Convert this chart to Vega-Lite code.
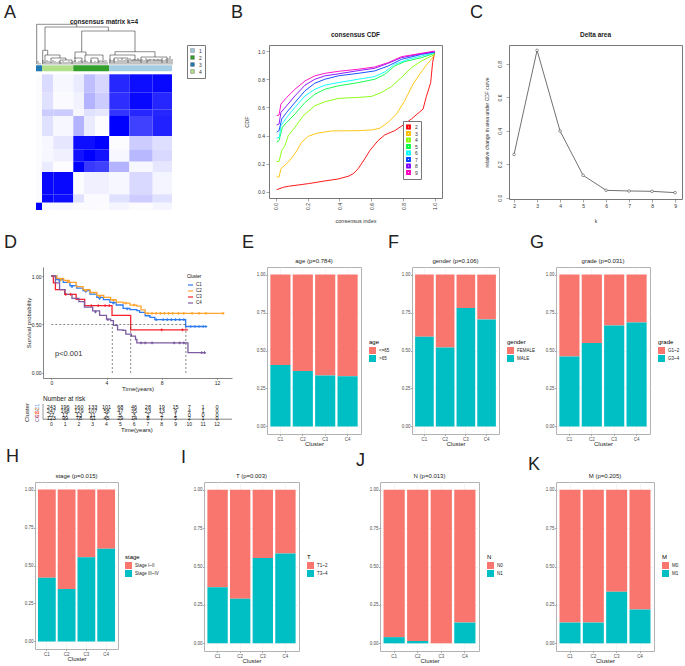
{
"$schema":"https://vega.github.io/schema/vega-lite/v6.json",
"padding":{"left":0,"top":4,"right":0,"bottom":0},
"background":"white",
"spacing":0,
"resolve":{"scale":{"color":"independent","fill":"independent"},"legend":{"color":"independent","fill":"independent"}},
"config":{"font":"Liberation Sans","view":{"stroke":null},"title":{"fontWeight":"normal","color":"#222"},
"axis":{"labelFontSize":4.5,"labelColor":"#4d4d4d","labelFontWeight":"normal","titleFontSize":6,"titleFontWeight":"normal","titleColor":"#222","tickSize":1.5,"tickColor":"#555","tickWidth":0.5,"domain":false,"grid":false,"labelPadding":0.5,"titlePadding":0},
"legend":{"titleFontWeight":"normal"}},
"vconcat":[
{"resolve":{"scale":{"color":"independent","fill":"independent"},"legend":{"color":"independent","fill":"independent"}},"hconcat":[
{"width":36,"height":189,"title":{"text":"A","anchor":"start","dx":4,"offset":9,"fontSize":18,"baseline":"alphabetic"},"data":{"values":[{"z":0.5}]},"mark":{"type":"rect","opacity":0},"encoding":{"x":{"field":"z","type":"quantitative","axis":null,"scale":{"domain":[0,1]}},"y":{"field":"z","type":"quantitative","axis":null,"scale":{"domain":[0,1]}}}},
{"width":136,"height":165,"title":{"text":"consensus matrix k=4","fontSize":6.5,"fontWeight":"bold","offset":-6.5,"baseline":"alphabetic"},
"layer":[
{"data":{"values":[
{"a":0,"b":6,"lo":117.3,"hi":135.7,"v":0.01},{"a":6,"b":17.3,"lo":117.3,"hi":135.7,"v":0.14},{"a":17.3,"b":37.3,"lo":117.3,"hi":135.7,"v":0.03},{"a":37.3,"b":48,"lo":117.3,"hi":135.7,"v":0.08},{"a":48,"b":59,"lo":117.3,"hi":135.7,"v":0.25},{"a":59,"b":73.3,"lo":117.3,"hi":135.7,"v":0.16},{"a":73.3,"b":93.3,"lo":117.3,"hi":135.7,"v":0.85},{"a":93.3,"b":116.7,"lo":117.3,"hi":135.7,"v":0.95},{"a":116.7,"b":136,"lo":117.3,"hi":135.7,"v":0.97},
{"a":0,"b":6,"lo":100.7,"hi":117.3,"v":0.01},{"a":6,"b":17.3,"lo":100.7,"hi":117.3,"v":0.12},{"a":17.3,"b":37.3,"lo":100.7,"hi":117.3,"v":0.02},{"a":37.3,"b":48,"lo":100.7,"hi":117.3,"v":0.05},{"a":48,"b":59,"lo":100.7,"hi":117.3,"v":0.3},{"a":59,"b":73.3,"lo":100.7,"hi":117.3,"v":0.2},{"a":73.3,"b":93.3,"lo":100.7,"hi":117.3,"v":0.82},{"a":93.3,"b":116.7,"lo":100.7,"hi":117.3,"v":0.97},{"a":116.7,"b":136,"lo":100.7,"hi":117.3,"v":0.85},
{"a":0,"b":6,"lo":94,"hi":100.7,"v":0.01},{"a":6,"b":17.3,"lo":94,"hi":100.7,"v":0.2},{"a":17.3,"b":37.3,"lo":94,"hi":100.7,"v":0.2},{"a":37.3,"b":48,"lo":94,"hi":100.7,"v":0.03},{"a":48,"b":59,"lo":94,"hi":100.7,"v":0.12},{"a":59,"b":73.3,"lo":94,"hi":100.7,"v":0.1},{"a":73.3,"b":93.3,"lo":94,"hi":100.7,"v":0.8},{"a":93.3,"b":116.7,"lo":94,"hi":100.7,"v":0.85},{"a":116.7,"b":136,"lo":94,"hi":100.7,"v":0.85},
{"a":0,"b":6,"lo":74,"hi":94,"v":0.01},{"a":6,"b":17.3,"lo":74,"hi":94,"v":0.12},{"a":17.3,"b":37.3,"lo":74,"hi":94,"v":0.03},{"a":37.3,"b":48,"lo":74,"hi":94,"v":0.3},{"a":48,"b":59,"lo":74,"hi":94,"v":0.08},{"a":59,"b":73.3,"lo":74,"hi":94,"v":0.01},{"a":73.3,"b":93.3,"lo":74,"hi":94,"v":1},{"a":93.3,"b":116.7,"lo":74,"hi":94,"v":0.75},{"a":116.7,"b":136,"lo":74,"hi":94,"v":0.87},
{"a":0,"b":6,"lo":60.7,"hi":74,"v":0.01},{"a":6,"b":17.3,"lo":60.7,"hi":74,"v":0.03},{"a":17.3,"b":37.3,"lo":60.7,"hi":74,"v":0.1},{"a":37.3,"b":48,"lo":60.7,"hi":74,"v":0.95},{"a":48,"b":59,"lo":60.7,"hi":74,"v":0.95},{"a":59,"b":73.3,"lo":60.7,"hi":74,"v":1},{"a":73.3,"b":93.3,"lo":60.7,"hi":74,"v":0.01},{"a":93.3,"b":116.7,"lo":60.7,"hi":74,"v":0.2},{"a":116.7,"b":136,"lo":60.7,"hi":74,"v":0.13},
{"a":0,"b":6,"lo":48.3,"hi":60.7,"v":0.01},{"a":6,"b":17.3,"lo":48.3,"hi":60.7,"v":0.03},{"a":17.3,"b":37.3,"lo":48.3,"hi":60.7,"v":0.06},{"a":37.3,"b":48,"lo":48.3,"hi":60.7,"v":0.93},{"a":48,"b":59,"lo":48.3,"hi":60.7,"v":1},{"a":59,"b":73.3,"lo":48.3,"hi":60.7,"v":0.93},{"a":73.3,"b":93.3,"lo":48.3,"hi":60.7,"v":0.03},{"a":93.3,"b":116.7,"lo":48.3,"hi":60.7,"v":0.28},{"a":116.7,"b":136,"lo":48.3,"hi":60.7,"v":0.15},
{"a":0,"b":6,"lo":38,"hi":48.3,"v":0.01},{"a":6,"b":17.3,"lo":38,"hi":48.3,"v":0.08},{"a":17.3,"b":37.3,"lo":38,"hi":48.3,"v":0.01},{"a":37.3,"b":48,"lo":38,"hi":48.3,"v":1},{"a":48,"b":59,"lo":38,"hi":48.3,"v":0.78},{"a":59,"b":73.3,"lo":38,"hi":48.3,"v":0.75},{"a":73.3,"b":93.3,"lo":38,"hi":48.3,"v":0.3},{"a":93.3,"b":116.7,"lo":38,"hi":48.3,"v":0.03},{"a":116.7,"b":136,"lo":38,"hi":48.3,"v":0.1},
{"a":0,"b":6,"lo":15.7,"hi":38,"v":0.01},{"a":6,"b":17.3,"lo":15.7,"hi":38,"v":0.97},{"a":17.3,"b":37.3,"lo":15.7,"hi":38,"v":0.97},{"a":37.3,"b":48,"lo":15.7,"hi":38,"v":0.01},{"a":48,"b":59,"lo":15.7,"hi":38,"v":0.06},{"a":59,"b":73.3,"lo":15.7,"hi":38,"v":0.06},{"a":73.3,"b":93.3,"lo":15.7,"hi":38,"v":0.03},{"a":93.3,"b":116.7,"lo":15.7,"hi":38,"v":0.15},{"a":116.7,"b":136,"lo":15.7,"hi":38,"v":0.04},
{"a":0,"b":6,"lo":7.3,"hi":15.7,"v":0.01},{"a":6,"b":17.3,"lo":7.3,"hi":15.7,"v":0.97},{"a":17.3,"b":37.3,"lo":7.3,"hi":15.7,"v":0.95},{"a":37.3,"b":48,"lo":7.3,"hi":15.7,"v":0.12},{"a":48,"b":59,"lo":7.3,"hi":15.7,"v":0.02},{"a":59,"b":73.3,"lo":7.3,"hi":15.7,"v":0.02},{"a":73.3,"b":93.3,"lo":7.3,"hi":15.7,"v":0.12},{"a":93.3,"b":116.7,"lo":7.3,"hi":15.7,"v":0.2},{"a":116.7,"b":136,"lo":7.3,"hi":15.7,"v":0.12},
{"a":0,"b":6,"lo":0,"hi":7.3,"v":1},{"a":6,"b":17.3,"lo":0,"hi":7.3,"v":0.03},{"a":17.3,"b":37.3,"lo":0,"hi":7.3,"v":0.03},{"a":37.3,"b":48,"lo":0,"hi":7.3,"v":0.01},{"a":48,"b":59,"lo":0,"hi":7.3,"v":0.02},{"a":59,"b":73.3,"lo":0,"hi":7.3,"v":0.01},{"a":73.3,"b":93.3,"lo":0,"hi":7.3,"v":0.04},{"a":93.3,"b":116.7,"lo":0,"hi":7.3,"v":0.01},{"a":116.7,"b":136,"lo":0,"hi":7.3,"v":0.04}
]},"mark":{"type":"rect"},
"encoding":{"x":{"field":"a","type":"quantitative","scale":{"domain":[0,136],"nice":false},"axis":null},"x2":{"field":"b"},
"y":{"field":"lo","type":"quantitative","scale":{"domain":[0,165],"nice":false},"axis":null},"y2":{"field":"hi"},
"color":{"field":"v","type":"quantitative","legend":null,"scale":{"domain":[0,1],"range":["#ffffff","#0000ff"],"interpolate":"rgb"}}}},
{"data":{"values":[{"group":"3","a":0,"b":6,"lo":138.7,"hi":144.7},{"group":"4","a":6,"b":37.3,"lo":138.7,"hi":144.7},{"group":"2","a":37.3,"b":73.3,"lo":138.7,"hi":144.7},{"group":"1","a":73.3,"b":136,"lo":138.7,"hi":144.7}]},
"mark":{"type":"rect"},
"encoding":{"x":{"field":"a","type":"quantitative","axis":null},"x2":{"field":"b"},"y":{"field":"lo","type":"quantitative","axis":null},"y2":{"field":"hi"},
"fill":{"field":"group","type":"nominal","scale":{"domain":["1","2","3","4"],"range":["#A6CEE3","#33A02C","#1F78B4","#B2DF8A"]},
"legend":{"title":null,"orient":"none","legendX":151,"legendY":0,"padding":3,"strokeColor":"#777","symbolType":"square","symbolSize":14,"symbolStrokeColor":"#555","symbolStrokeWidth":0.4,"labelFontSize":5,"labelColor":"#333","rowPadding":0,"labelOffset":4}}}},
{"data":{"values":[
{"a":0.7,"b":40.7,"h":185.7},{"a":9,"b":72.3,"h":183},{"a":45.7,"b":99,"h":179},{"a":6.7,"b":11.7,"h":159.7},{"a":9,"b":24,"h":155},{"a":15,"b":30,"h":152},{"a":24,"b":36,"h":150},{"a":39,"b":50,"h":158},{"a":38,"b":46,"h":152},{"a":49,"b":67,"h":155},{"a":55,"b":62,"h":152},{"a":62,"b":71,"h":149},{"a":79,"b":119,"h":158.3},{"a":74,"b":99,"h":155},{"a":78,"b":92,"h":152},{"a":95,"b":105,"h":150},{"a":105,"b":131,"h":153},{"a":111,"b":126,"h":150}
]},"mark":{"type":"rule","color":"#444","strokeWidth":0.6},
"encoding":{"x":{"field":"a","type":"quantitative","axis":null},"x2":{"field":"b"},"y":{"field":"h","type":"quantitative","axis":null}}},
{"data":{"values":[
{"a":0.7,"lo":146,"hi":185.7},{"a":40.7,"lo":183,"hi":185.7},{"a":9,"lo":159.7,"hi":183},{"a":72.3,"lo":179,"hi":183},{"a":45.7,"lo":158,"hi":179},{"a":99,"lo":158,"hi":179},{"a":6.7,"lo":146,"hi":159.7},{"a":11.7,"lo":155,"hi":159.7},{"a":9,"lo":147,"hi":155},{"a":24,"lo":152,"hi":155},{"a":15,"lo":147,"hi":152},{"a":30,"lo":150,"hi":152},{"a":24,"lo":146,"hi":150},{"a":36,"lo":146,"hi":150},{"a":39,"lo":148,"hi":158},{"a":50,"lo":155,"hi":158},{"a":46,"lo":147,"hi":152},{"a":49,"lo":148,"hi":155},{"a":67,"lo":150,"hi":155},{"a":55,"lo":147,"hi":152},{"a":62,"lo":147,"hi":152},{"a":79,"lo":155,"hi":158.3},{"a":119,"lo":153,"hi":158.3},{"a":74,"lo":147,"hi":155},{"a":99,"lo":150,"hi":155},{"a":78,"lo":147,"hi":152},{"a":92,"lo":147,"hi":152},{"a":105,"lo":147,"hi":153},{"a":131,"lo":147,"hi":153},{"a":111,"lo":147,"hi":150},{"a":126,"lo":147,"hi":150},
{"a":2,"lo":145.4,"hi":149},{"a":4,"lo":145.4,"hi":147},{"a":7,"lo":145.4,"hi":150},{"a":9,"lo":145.4,"hi":148},{"a":11,"lo":145.4,"hi":150},{"a":13,"lo":145.4,"hi":149},{"a":15,"lo":145.4,"hi":148},{"a":17,"lo":145.4,"hi":150},{"a":19,"lo":145.4,"hi":149},{"a":21,"lo":145.4,"hi":148},{"a":23,"lo":145.4,"hi":149},{"a":25,"lo":145.4,"hi":148},{"a":27,"lo":145.4,"hi":149},{"a":29,"lo":145.4,"hi":148},{"a":31,"lo":145.4,"hi":148},{"a":33,"lo":145.4,"hi":149},{"a":35,"lo":145.4,"hi":148},{"a":37,"lo":145.4,"hi":149},{"a":39,"lo":145.4,"hi":150},{"a":41,"lo":145.4,"hi":148},{"a":43,"lo":145.4,"hi":149},{"a":45,"lo":145.4,"hi":150},{"a":47,"lo":145.4,"hi":149},{"a":49,"lo":145.4,"hi":150},{"a":51,"lo":145.4,"hi":149},{"a":53,"lo":145.4,"hi":148},{"a":55,"lo":145.4,"hi":150},{"a":57,"lo":145.4,"hi":148},{"a":59,"lo":145.4,"hi":149},{"a":61,"lo":145.4,"hi":148},{"a":63,"lo":145.4,"hi":149},{"a":65,"lo":145.4,"hi":148},{"a":67,"lo":145.4,"hi":149},{"a":69,"lo":145.4,"hi":148},{"a":71,"lo":145.4,"hi":148},{"a":74,"lo":145.4,"hi":151},{"a":76,"lo":145.4,"hi":150},{"a":78,"lo":145.4,"hi":151},{"a":80,"lo":145.4,"hi":149},{"a":82,"lo":145.4,"hi":151},{"a":84,"lo":145.4,"hi":150},{"a":86,"lo":145.4,"hi":152},{"a":88,"lo":145.4,"hi":150},{"a":90,"lo":145.4,"hi":151},{"a":92,"lo":145.4,"hi":150},{"a":94,"lo":145.4,"hi":152},{"a":96,"lo":145.4,"hi":150},{"a":98,"lo":145.4,"hi":151},{"a":100,"lo":145.4,"hi":150},{"a":102,"lo":145.4,"hi":152},{"a":104,"lo":145.4,"hi":150},{"a":106,"lo":145.4,"hi":151},{"a":108,"lo":145.4,"hi":150},{"a":110,"lo":145.4,"hi":152},{"a":112,"lo":145.4,"hi":150},{"a":114,"lo":145.4,"hi":151},{"a":116,"lo":145.4,"hi":149},{"a":118,"lo":145.4,"hi":151},{"a":120,"lo":145.4,"hi":150},{"a":122,"lo":145.4,"hi":151},{"a":124,"lo":145.4,"hi":150},{"a":126,"lo":145.4,"hi":152},{"a":128,"lo":145.4,"hi":150},{"a":130,"lo":145.4,"hi":151},{"a":132,"lo":145.4,"hi":152},{"a":134,"lo":145.4,"hi":154},{"a":136,"lo":145.4,"hi":151}
]},"mark":{"type":"rule","color":"#333","strokeWidth":0.6},
"encoding":{"x":{"field":"a","type":"quantitative","axis":null},"y":{"field":"lo","type":"quantitative","axis":null},"y2":{"field":"hi"}}}
]},
{"width":97,"height":1,"title":{"text":"B","anchor":"start","dx":59,"offset":9,"fontSize":18,"baseline":"alphabetic"},"data":{"values":[{"z":0.5}]},"mark":{"type":"rect","opacity":0},"encoding":{"x":{"field":"z","type":"quantitative","axis":null,"scale":{"domain":[0,1]}},"y":{"field":"z","type":"quantitative","axis":null,"scale":{"domain":[0,1]}}}},
{"width":173,"height":153,"view":{"stroke":"#777"},"title":{"text":"consensus CDF","fontSize":6.5,"fontWeight":"bold","offset":1.5,"baseline":"alphabetic"},
"data":{"values":[
{"k":"2","x":0.006,"y":0.016},{"k":"2","x":0.048,"y":0.033},{"k":"2","x":0.079,"y":0.04},{"k":"2","x":0.205,"y":0.059},{"k":"2","x":0.309,"y":0.078},{"k":"2","x":0.392,"y":0.092},{"k":"2","x":0.455,"y":0.111},{"k":"2","x":0.486,"y":0.129},{"k":"2","x":0.518,"y":0.165},{"k":"2","x":0.559,"y":0.235},{"k":"2","x":0.591,"y":0.294},{"k":"2","x":0.643,"y":0.365},{"k":"2","x":0.685,"y":0.405},{"k":"2","x":0.747,"y":0.435},{"k":"2","x":0.789,"y":0.466},{"k":"2","x":0.852,"y":0.518},{"k":"2","x":0.925,"y":0.588},{"k":"2","x":0.946,"y":0.678},{"k":"2","x":0.973,"y":0.776},{"k":"2","x":0.985,"y":0.918},{"k":"2","x":0.998,"y":0.993},
{"k":"3","x":0.006,"y":0.106},{"k":"3","x":0.021,"y":0.106},{"k":"3","x":0.033,"y":0.165},{"k":"3","x":0.079,"y":0.212},{"k":"3","x":0.121,"y":0.271},{"k":"3","x":0.163,"y":0.353},{"k":"3","x":0.205,"y":0.395},{"k":"3","x":0.257,"y":0.416},{"k":"3","x":0.351,"y":0.433},{"k":"3","x":0.518,"y":0.435},{"k":"3","x":0.601,"y":0.44},{"k":"3","x":0.653,"y":0.452},{"k":"3","x":0.706,"y":0.494},{"k":"3","x":0.758,"y":0.553},{"k":"3","x":0.81,"y":0.647},{"k":"3","x":0.862,"y":0.765},{"k":"3","x":0.914,"y":0.852},{"k":"3","x":0.946,"y":0.901},{"k":"3","x":0.977,"y":0.941},{"k":"3","x":0.998,"y":0.976},
{"k":"4","x":0.006,"y":0.216},{"k":"4","x":0.021,"y":0.216},{"k":"4","x":0.038,"y":0.294},{"k":"4","x":0.058,"y":0.329},{"k":"4","x":0.079,"y":0.4},{"k":"4","x":0.121,"y":0.459},{"k":"4","x":0.173,"y":0.541},{"k":"4","x":0.246,"y":0.612},{"k":"4","x":0.309,"y":0.64},{"k":"4","x":0.392,"y":0.664},{"k":"4","x":0.518,"y":0.671},{"k":"4","x":0.601,"y":0.678},{"k":"4","x":0.664,"y":0.706},{"k":"4","x":0.727,"y":0.748},{"k":"4","x":0.789,"y":0.812},{"k":"4","x":0.852,"y":0.882},{"k":"4","x":0.914,"y":0.929},{"k":"4","x":0.998,"y":0.976},
{"k":"5","x":0.006,"y":0.353},{"k":"5","x":0.021,"y":0.365},{"k":"5","x":0.042,"y":0.459},{"k":"5","x":0.069,"y":0.494},{"k":"5","x":0.121,"y":0.553},{"k":"5","x":0.184,"y":0.635},{"k":"5","x":0.246,"y":0.694},{"k":"5","x":0.309,"y":0.729},{"k":"5","x":0.392,"y":0.753},{"k":"5","x":0.518,"y":0.776},{"k":"5","x":0.622,"y":0.8},{"k":"5","x":0.685,"y":0.835},{"k":"5","x":0.747,"y":0.894},{"k":"5","x":0.81,"y":0.925},{"k":"5","x":0.914,"y":0.953},{"k":"5","x":0.998,"y":0.984},
{"k":"6","x":0.006,"y":0.381},{"k":"6","x":0.023,"y":0.388},{"k":"6","x":0.033,"y":0.471},{"k":"6","x":0.069,"y":0.529},{"k":"6","x":0.121,"y":0.6},{"k":"6","x":0.184,"y":0.682},{"k":"6","x":0.246,"y":0.729},{"k":"6","x":0.309,"y":0.758},{"k":"6","x":0.392,"y":0.776},{"k":"6","x":0.518,"y":0.8},{"k":"6","x":0.622,"y":0.819},{"k":"6","x":0.685,"y":0.852},{"k":"6","x":0.747,"y":0.906},{"k":"6","x":0.831,"y":0.941},{"k":"6","x":0.998,"y":0.988},
{"k":"7","x":0.006,"y":0.424},{"k":"7","x":0.021,"y":0.435},{"k":"7","x":0.038,"y":0.518},{"k":"7","x":0.069,"y":0.565},{"k":"7","x":0.121,"y":0.635},{"k":"7","x":0.184,"y":0.718},{"k":"7","x":0.246,"y":0.772},{"k":"7","x":0.309,"y":0.8},{"k":"7","x":0.392,"y":0.824},{"k":"7","x":0.518,"y":0.842},{"k":"7","x":0.622,"y":0.859},{"k":"7","x":0.706,"y":0.894},{"k":"7","x":0.789,"y":0.941},{"k":"7","x":0.914,"y":0.976},{"k":"7","x":0.998,"y":0.993},
{"k":"8","x":0.006,"y":0.475},{"k":"8","x":0.021,"y":0.482},{"k":"8","x":0.033,"y":0.565},{"k":"8","x":0.069,"y":0.612},{"k":"8","x":0.121,"y":0.682},{"k":"8","x":0.184,"y":0.758},{"k":"8","x":0.246,"y":0.8},{"k":"8","x":0.309,"y":0.824},{"k":"8","x":0.392,"y":0.838},{"k":"8","x":0.518,"y":0.861},{"k":"8","x":0.622,"y":0.878},{"k":"8","x":0.706,"y":0.913},{"k":"8","x":0.789,"y":0.953},{"k":"8","x":0.914,"y":0.981},{"k":"8","x":0.998,"y":0.995},
{"k":"9","x":0.006,"y":0.541},{"k":"9","x":0.021,"y":0.546},{"k":"9","x":0.033,"y":0.624},{"k":"9","x":0.069,"y":0.671},{"k":"9","x":0.121,"y":0.729},{"k":"9","x":0.184,"y":0.788},{"k":"9","x":0.246,"y":0.824},{"k":"9","x":0.309,"y":0.842},{"k":"9","x":0.392,"y":0.856},{"k":"9","x":0.518,"y":0.871},{"k":"9","x":0.622,"y":0.887},{"k":"9","x":0.706,"y":0.918},{"k":"9","x":0.789,"y":0.96},{"k":"9","x":0.914,"y":0.984},{"k":"9","x":0.998,"y":1}
]},
"mark":{"type":"line","strokeWidth":0.9},
"encoding":{
"x":{"field":"x","type":"quantitative","scale":{"domain":[-0.042,1.044],"nice":false},"axis":{"values":[0,0.2,0.4,0.6,0.8,1],"format":".1f","labelAngle":270,"labelFontSize":5,"labelColor":"#333","labelPadding":1.5,"tickSize":3,"title":"consensus index","titleFontSize":5.5,"titleColor":"#333","titlePadding":9}},
"y":{"field":"y","type":"quantitative","scale":{"domain":[-0.043,1.043],"nice":false},"axis":{"values":[0,0.2,0.4,0.6,0.8,1],"format":".1f","labelFontSize":5,"labelColor":"#333","labelPadding":1.5,"tickSize":3,"title":"CDF","titleFontSize":5.5,"titleColor":"#333","titlePadding":8}},
"color":{"field":"k","type":"nominal","scale":{"domain":["2","3","4","5","6","7","8","9"],"range":["#FF0000","#FFBF00","#80FF00","#00FF40","#00FFFF","#0040FF","#8000FF","#FF00BF"]},
"legend":{"title":null,"orient":"none","legendX":134,"legendY":76,"zindex":1,"fillColor":"white","strokeColor":"#777","padding":3,"symbolType":"square","symbolSize":8,"symbolStrokeWidth":2,"labelFontSize":5,"labelColor":"#333","clipHeight":6,"rowPadding":0.5,"labelOffset":4}}}},
{"width":67,"height":1,"title":{"text":"C","anchor":"start","dx":28,"offset":9,"fontSize":18,"baseline":"alphabetic"},"data":{"values":[{"z":0.5}]},"mark":{"type":"rect","opacity":0},"encoding":{"x":{"field":"z","type":"quantitative","axis":null,"scale":{"domain":[0,1]}},"y":{"field":"z","type":"quantitative","axis":null,"scale":{"domain":[0,1]}}}},
{"width":173,"height":154,"view":{"stroke":"#777"},"title":{"text":"Delta area","fontSize":6.5,"fontWeight":"bold","offset":1.5,"baseline":"alphabetic"},
"data":{"values":[{"k":2,"change":0.259},{"k":3,"change":0.882},{"k":4,"change":0.399},{"k":5,"change":0.134},{"k":6,"change":0.044},{"k":7,"change":0.04},{"k":8,"change":0.038},{"k":9,"change":0.03}]},
"mark":{"type":"line","color":"#333","strokeWidth":0.7,"point":{"filled":true,"fill":"white","stroke":"#333","strokeWidth":0.5,"size":7}},
"encoding":{
"x":{"field":"k","type":"quantitative","scale":{"domain":[1.78,9.3],"nice":false},"axis":{"values":[2,3,4,5,6,7,8,9],"format":"d","labelFontSize":5,"labelColor":"#333","labelPadding":1.5,"tickSize":3,"title":"k","titleFontSize":5,"titleColor":"#333","titlePadding":10}},
"y":{"field":"change","type":"quantitative","scale":{"domain":[-0.008,0.914],"nice":false},"axis":{"values":[0,0.2,0.4,0.6,0.8],"format":".1f","labelAngle":270,"labelFontSize":5,"labelColor":"#333","labelPadding":4,"tickSize":3,"title":"relative change in area under CDF curve","titleFontSize":5,"titleColor":"#333","titlePadding":8}}}}
],"bounds":"flush","spacing":0},
{"resolve":{"scale":{"color":"independent","fill":"independent"},"legend":{"color":"independent","fill":"independent"}},"hconcat":[
{"width":43,"height":181,"title":{"text":"D","anchor":"start","dx":4,"offset":1,"fontSize":18,"baseline":"alphabetic"},"data":{"values":[{"z":0.5}]},"mark":{"type":"rect","opacity":0},"encoding":{"x":{"field":"z","type":"quantitative","axis":null,"scale":{"domain":[0,1]}},"y":{"field":"z","type":"quantitative","axis":null,"scale":{"domain":[0,1]}}}},
{"width":189,"height":111,
"layer":[
{"data":{"values":[
{"Cluster":"C1","t":0,"s":1},{"Cluster":"C1","t":0.39,"s":0.962},{"Cluster":"C1","t":0.87,"s":0.935},{"Cluster":"C1","t":1.35,"s":0.9},{"Cluster":"C1","t":1.84,"s":0.876},{"Cluster":"C1","t":2.3,"s":0.849},{"Cluster":"C1","t":2.8,"s":0.814},{"Cluster":"C1","t":3.3,"s":0.78},{"Cluster":"C1","t":3.77,"s":0.756},{"Cluster":"C1","t":4.25,"s":0.729},{"Cluster":"C1","t":4.7,"s":0.701},{"Cluster":"C1","t":5.2,"s":0.667},{"Cluster":"C1","t":5.7,"s":0.653},{"Cluster":"C1","t":6.2,"s":0.643},{"Cluster":"C1","t":6.4,"s":0.625},{"Cluster":"C1","t":6.8,"s":0.59},{"Cluster":"C1","t":7.15,"s":0.574},{"Cluster":"C1","t":7.5,"s":0.55},{"Cluster":"C1","t":9.73,"s":0.479},{"Cluster":"C1","t":11.2,"s":0.479},
{"Cluster":"C2","t":0,"s":1},{"Cluster":"C2","t":0.4,"s":0.975},{"Cluster":"C2","t":0.9,"s":0.955},{"Cluster":"C2","t":1.3,"s":0.935},{"Cluster":"C2","t":1.8,"s":0.89},{"Cluster":"C2","t":2.3,"s":0.86},{"Cluster":"C2","t":2.8,"s":0.83},{"Cluster":"C2","t":3.3,"s":0.8},{"Cluster":"C2","t":3.8,"s":0.78},{"Cluster":"C2","t":4.3,"s":0.755},{"Cluster":"C2","t":4.7,"s":0.73},{"Cluster":"C2","t":5.2,"s":0.72},{"Cluster":"C2","t":5.7,"s":0.7},{"Cluster":"C2","t":6.2,"s":0.69},{"Cluster":"C2","t":6.5,"s":0.65},{"Cluster":"C2","t":6.8,"s":0.615},{"Cluster":"C2","t":12.45,"s":0.615},
{"Cluster":"C3","t":0,"s":1},{"Cluster":"C3","t":0.15,"s":0.93},{"Cluster":"C3","t":0.3,"s":0.86},{"Cluster":"C3","t":0.97,"s":0.81},{"Cluster":"C3","t":1.8,"s":0.76},{"Cluster":"C3","t":2.42,"s":0.695},{"Cluster":"C3","t":4.4,"s":0.595},{"Cluster":"C3","t":5.75,"s":0.445},{"Cluster":"C3","t":9.9,"s":0.445},
{"Cluster":"C4","t":0,"s":1},{"Cluster":"C4","t":0.3,"s":0.93},{"Cluster":"C4","t":0.6,"s":0.86},{"Cluster":"C4","t":1,"s":0.81},{"Cluster":"C4","t":1.5,"s":0.77},{"Cluster":"C4","t":2,"s":0.735},{"Cluster":"C4","t":2.4,"s":0.68},{"Cluster":"C4","t":3,"s":0.64},{"Cluster":"C4","t":3.5,"s":0.595},{"Cluster":"C4","t":4,"s":0.555},{"Cluster":"C4","t":4.3,"s":0.54},{"Cluster":"C4","t":4.5,"s":0.49},{"Cluster":"C4","t":4.8,"s":0.445},{"Cluster":"C4","t":5.2,"s":0.44},{"Cluster":"C4","t":5.4,"s":0.4},{"Cluster":"C4","t":5.8,"s":0.38},{"Cluster":"C4","t":6.1,"s":0.345},{"Cluster":"C4","t":6.2,"s":0.31},{"Cluster":"C4","t":9.9,"s":0.21},{"Cluster":"C4","t":11.2,"s":0.21}
]},"mark":{"type":"line","interpolate":"step-after","strokeWidth":1.3},
"encoding":{
"x":{"field":"t","type":"quantitative","scale":{"domain":[-0.6,13.09],"nice":false},"axis":{"values":[0,1,2,3,4,5,6,7,8,9,10,11,12],"format":"d","domain":true,"domainColor":"#333","domainWidth":0.6,"labelFontSize":5,"labelColor":"#222","title":"Time(years)","titleFontSize":6,"titlePadding":0}},
"y":{"field":"s","type":"quantitative","scale":{"domain":[-0.052,1.093],"nice":false},"axis":{"values":[0,0.25,0.5,0.75,1],"format":".2f","domain":true,"domainColor":"#333","domainWidth":0.6,"labelFontSize":5,"labelColor":"#222","title":"Survival probability","titleFontSize":6,"titlePadding":0}},
"color":{"field":"Cluster","type":"nominal","scale":{"domain":["C1","C2","C3","C4"],"range":["#2E7BF0","#FFA52E","#F5222D","#7C5BA0"]},
"legend":{"orient":"none","legendX":144,"legendY":7,"title":"Cluster","titleFontSize":4.5,"titlePadding":3,"labelFontSize":4.5,"labelColor":"#222","symbolType":"stroke","symbolSize":25,"symbolStrokeWidth":1.2,"rowPadding":0,"labelOffset":2}}}},
{"data":{"values":[
{"Cluster":"C1","t":0.6,"s":0.95},{"Cluster":"C1","t":1.5,"s":0.89},{"Cluster":"C1","t":2.5,"s":0.84},{"Cluster":"C1","t":3.5,"s":0.77},{"Cluster":"C1","t":4.5,"s":0.72},{"Cluster":"C1","t":5.5,"s":0.66},{"Cluster":"C1","t":7.6,"s":0.55},{"Cluster":"C1","t":8.1,"s":0.55},{"Cluster":"C1","t":8.4,"s":0.55},{"Cluster":"C1","t":8.7,"s":0.55},{"Cluster":"C1","t":9,"s":0.55},{"Cluster":"C1","t":9.3,"s":0.55},{"Cluster":"C1","t":9.6,"s":0.55},{"Cluster":"C1","t":10.1,"s":0.479},{"Cluster":"C1","t":10.4,"s":0.479},{"Cluster":"C1","t":10.7,"s":0.479},{"Cluster":"C1","t":11,"s":0.479},{"Cluster":"C1","t":11.2,"s":0.479},
{"Cluster":"C2","t":0.7,"s":0.96},{"Cluster":"C2","t":1.2,"s":0.94},{"Cluster":"C2","t":2.5,"s":0.85},{"Cluster":"C2","t":3.5,"s":0.79},{"Cluster":"C2","t":4.5,"s":0.75},{"Cluster":"C2","t":5.4,"s":0.72},{"Cluster":"C2","t":6,"s":0.7},{"Cluster":"C2","t":7,"s":0.615},{"Cluster":"C2","t":7.3,"s":0.615},{"Cluster":"C2","t":7.6,"s":0.615},{"Cluster":"C2","t":7.9,"s":0.615},{"Cluster":"C2","t":8.2,"s":0.615},{"Cluster":"C2","t":8.5,"s":0.615},{"Cluster":"C2","t":8.8,"s":0.615},{"Cluster":"C2","t":9.2,"s":0.615},{"Cluster":"C2","t":9.6,"s":0.615},{"Cluster":"C2","t":10.2,"s":0.615},{"Cluster":"C2","t":10.7,"s":0.615},{"Cluster":"C2","t":11.2,"s":0.615},{"Cluster":"C2","t":12.45,"s":0.615},
{"Cluster":"C3","t":1.05,"s":0.81},{"Cluster":"C3","t":1.4,"s":0.81},{"Cluster":"C3","t":2.9,"s":0.695},{"Cluster":"C3","t":3.4,"s":0.695},{"Cluster":"C3","t":3.9,"s":0.695},{"Cluster":"C3","t":4.2,"s":0.695},{"Cluster":"C3","t":8,"s":0.445},{"Cluster":"C3","t":9.5,"s":0.445},
{"Cluster":"C4","t":6.5,"s":0.31},{"Cluster":"C4","t":6.8,"s":0.31},{"Cluster":"C4","t":7.3,"s":0.31},{"Cluster":"C4","t":8.9,"s":0.31},{"Cluster":"C4","t":9.3,"s":0.31},{"Cluster":"C4","t":9.6,"s":0.31},{"Cluster":"C4","t":10.9,"s":0.21},{"Cluster":"C4","t":11.1,"s":0.21},{"Cluster":"C4","t":3.2,"s":0.63},{"Cluster":"C4","t":4.1,"s":0.55}
]},"mark":{"type":"point","shape":"cross","filled":true,"size":7,"opacity":1},
"encoding":{"x":{"field":"t","type":"quantitative"},"y":{"field":"s","type":"quantitative"},"color":{"field":"Cluster","type":"nominal","legend":null}}},
{"data":{"values":[{"t":4.42,"lo":0,"hi":0.5},{"t":5.75,"lo":0,"hi":0.5},{"t":9.75,"lo":0,"hi":0.5}]},"mark":{"type":"rule","color":"#333","strokeWidth":0.6,"strokeDash":[2,2]},
"encoding":{"x":{"field":"t","type":"quantitative"},"y":{"field":"lo","type":"quantitative"},"y2":{"field":"hi"}}},
{"data":{"values":[{"from":0,"to":9.75,"level":0.5}]},"mark":{"type":"rule","color":"#333","strokeWidth":0.6,"strokeDash":[2,2]},
"encoding":{"x":{"field":"from","type":"quantitative"},"x2":{"field":"to"},"y":{"field":"level","type":"quantitative"}}},
{"data":{"values":[{"from":-0.6,"to":13.09,"level":-0.477}]},"mark":{"type":"rule","color":"#333","strokeWidth":0.6},
"encoding":{"x":{"field":"from","type":"quantitative"},"x2":{"field":"to"},"y":{"field":"level","type":"quantitative"}}},
{"data":{"values":[{"t":-0.6,"lo":-0.477,"hi":-0.32},{"t":0,"lo":-0.493,"hi":-0.477},{"t":1,"lo":-0.493,"hi":-0.477},{"t":2,"lo":-0.493,"hi":-0.477},{"t":3,"lo":-0.493,"hi":-0.477},{"t":4,"lo":-0.493,"hi":-0.477},{"t":5,"lo":-0.493,"hi":-0.477},{"t":6,"lo":-0.493,"hi":-0.477},{"t":7,"lo":-0.493,"hi":-0.477},{"t":8,"lo":-0.493,"hi":-0.477},{"t":9,"lo":-0.493,"hi":-0.477},{"t":10,"lo":-0.493,"hi":-0.477},{"t":11,"lo":-0.493,"hi":-0.477},{"t":12,"lo":-0.493,"hi":-0.477}]},"mark":{"type":"rule","color":"#333","strokeWidth":0.5},
"encoding":{"x":{"field":"t","type":"quantitative"},"y":{"field":"lo","type":"quantitative"},"y2":{"field":"hi"}}},
{"data":{"values":[{"label":"p<0.001","t":0.27,"s":0.196}]},"mark":{"type":"text","fontSize":7.5,"align":"left","color":"#333"},"encoding":{"x":{"field":"t","type":"quantitative"},"y":{"field":"s","type":"quantitative"},"text":{"field":"label","type":"nominal"}}},
{"data":{"values":[{"label":"Number at risk","t":-0.6,"s":-0.271}]},"mark":{"type":"text","fontSize":6.5,"align":"left","color":"#222"},"encoding":{"x":{"field":"t","type":"quantitative"},"y":{"field":"s","type":"quantitative"},"text":{"field":"label","type":"nominal"}}},
{"data":{"values":[{"label":"Cluster","t":-1.76,"s":-0.409}]},"mark":{"type":"text","fontSize":6,"angle":270,"color":"#222"},"encoding":{"x":{"field":"t","type":"quantitative"},"y":{"field":"s","type":"quantitative"},"text":{"field":"label","type":"nominal"}}},
{"data":{"values":[{"label":"Time(years)","t":6.2,"s":-0.588}]},"mark":{"type":"text","fontSize":6,"color":"#222"},"encoding":{"x":{"field":"t","type":"quantitative"},"y":{"field":"s","type":"quantitative"},"text":{"field":"label","type":"nominal"}}},
{"data":{"values":[{"Cluster":"C1","t":-1.04,"s":-0.354},{"Cluster":"C2","t":-1.04,"s":-0.392},{"Cluster":"C3","t":-1.04,"s":-0.43},{"Cluster":"C4","t":-1.04,"s":-0.469}]},"mark":{"type":"text","fontSize":5.5,"angle":270},"encoding":{"x":{"field":"t","type":"quantitative"},"y":{"field":"s","type":"quantitative"},"text":{"field":"Cluster","type":"nominal"},"color":{"field":"Cluster","type":"nominal","legend":null}}},
{"data":{"values":[{"t":0,"n":0,"s":-0.523},{"t":1,"n":1,"s":-0.523},{"t":2,"n":2,"s":-0.523},{"t":3,"n":3,"s":-0.523},{"t":4,"n":4,"s":-0.523},{"t":5,"n":5,"s":-0.523},{"t":6,"n":6,"s":-0.523},{"t":7,"n":7,"s":-0.523},{"t":8,"n":8,"s":-0.523},{"t":9,"n":9,"s":-0.523},{"t":10,"n":10,"s":-0.523},{"t":11,"n":11,"s":-0.523},{"t":12,"n":12,"s":-0.523}]},"mark":{"type":"text","fontSize":5,"color":"#222"},"encoding":{"x":{"field":"t","type":"quantitative"},"y":{"field":"s","type":"quantitative"},"text":{"field":"n","type":"quantitative"}}},
{"data":{"values":[{"t":0,"n":243,"s":-0.354},{"t":1,"n":196,"s":-0.354},{"t":2,"n":160,"s":-0.354},{"t":3,"n":133,"s":-0.354},{"t":4,"n":101,"s":-0.354},{"t":5,"n":68,"s":-0.354},{"t":6,"n":46,"s":-0.354},{"t":7,"n":28,"s":-0.354},{"t":8,"n":19,"s":-0.354},{"t":9,"n":15,"s":-0.354},{"t":10,"n":7,"s":-0.354},{"t":11,"n":1,"s":-0.354},{"t":12,"n":0,"s":-0.354},
{"t":0,"n":247,"s":-0.392},{"t":1,"n":198,"s":-0.392},{"t":2,"n":129,"s":-0.392},{"t":3,"n":107,"s":-0.392},{"t":4,"n":58,"s":-0.392},{"t":5,"n":47,"s":-0.392},{"t":6,"n":35,"s":-0.392},{"t":7,"n":23,"s":-0.392},{"t":8,"n":13,"s":-0.392},{"t":9,"n":9,"s":-0.392},{"t":10,"n":4,"s":-0.392},{"t":11,"n":1,"s":-0.392},{"t":12,"n":0,"s":-0.392},
{"t":0,"n":27,"s":-0.43},{"t":1,"n":17,"s":-0.43},{"t":2,"n":13,"s":-0.43},{"t":3,"n":11,"s":-0.43},{"t":4,"n":7,"s":-0.43},{"t":5,"n":5,"s":-0.43},{"t":6,"n":3,"s":-0.43},{"t":7,"n":2,"s":-0.43},{"t":8,"n":2,"s":-0.43},{"t":9,"n":1,"s":-0.43},{"t":10,"n":0,"s":-0.43},{"t":11,"n":0,"s":-0.43},{"t":12,"n":0,"s":-0.43},
{"t":0,"n":123,"s":-0.469},{"t":1,"n":99,"s":-0.469},{"t":2,"n":78,"s":-0.469},{"t":3,"n":61,"s":-0.469},{"t":4,"n":45,"s":-0.469},{"t":5,"n":29,"s":-0.469},{"t":6,"n":14,"s":-0.469},{"t":7,"n":8,"s":-0.469},{"t":8,"n":7,"s":-0.469},{"t":9,"n":5,"s":-0.469},{"t":10,"n":2,"s":-0.469},{"t":11,"n":1,"s":-0.469},{"t":12,"n":0,"s":-0.469}]},"mark":{"type":"text","fontSize":5.5,"color":"#111"},"encoding":{"x":{"field":"t","type":"quantitative"},"y":{"field":"s","type":"quantitative"},"text":{"field":"n","type":"quantitative"}}}
]},
{"width":35,"height":1,"title":{"text":"E","anchor":"start","dx":10,"offset":1,"fontSize":18,"baseline":"alphabetic"},"data":{"values":[{"z":0.5}]},"mark":{"type":"rect","opacity":0},"encoding":{"x":{"field":"z","type":"quantitative","axis":null,"scale":{"domain":[0,1]}},"y":{"field":"z","type":"quantitative","axis":null,"scale":{"domain":[0,1]}}}},
{"width":94,"height":167,"view":{"stroke":"#b3b3b3"},"title":{"text":"age (p=0.784)","fontSize":6,"offset":3},
"data":{"values":[{"Cluster":"C1","group":"<=65","part":"upper","share":0.595},{"Cluster":"C1","group":">65","part":"lower","share":0.405},{"Cluster":"C2","group":"<=65","part":"upper","share":0.635},{"Cluster":"C2","group":">65","part":"lower","share":0.365},{"Cluster":"C3","group":"<=65","part":"upper","share":0.665},{"Cluster":"C3","group":">65","part":"lower","share":0.335},{"Cluster":"C4","group":"<=65","part":"upper","share":0.67},{"Cluster":"C4","group":">65","part":"lower","share":0.33}]},
"mark":"bar",
"encoding":{"x":{"field":"Cluster","type":"nominal","scale":{"paddingInner":0.1,"paddingOuter":0.15},"axis":{"labelAngle":0,"grid":true,"gridColor":"#ebebeb","gridWidth":0.5,"title":"Cluster"}},
"y":{"field":"share","type":"quantitative","stack":"zero","scale":{"domain":[-0.05,1.05],"nice":false},"axis":{"values":[0,0.25,0.5,0.75,1],"format":".2f","grid":true,"gridColor":"#ebebeb","gridWidth":0.5,"title":null}},
"order":{"field":"part","type":"nominal","sort":"ascending"},
"color":{"field":"group","type":"nominal","scale":{"domain":["<=65",">65"],"range":["#F8766D","#00BFC4"]},"legend":{"title":"age","orient":"none","legendX":102,"legendY":72,"titleFontSize":6,"labelFontSize":4.5,"labelColor":"#222","symbolType":"square","symbolSize":49,"symbolStrokeWidth":0,"rowPadding":1,"titlePadding":2,"labelOffset":3}}}},
{"width":51,"height":1,"title":{"text":"F","anchor":"start","dx":27,"offset":1,"fontSize":18,"baseline":"alphabetic"},"data":{"values":[{"z":0.5}]},"mark":{"type":"rect","opacity":0},"encoding":{"x":{"field":"z","type":"quantitative","axis":null,"scale":{"domain":[0,1]}},"y":{"field":"z","type":"quantitative","axis":null,"scale":{"domain":[0,1]}}}},
{"width":87,"height":167,"view":{"stroke":"#b3b3b3"},"title":{"text":"gender (p=0.106)","fontSize":6,"offset":3},
"data":{"values":[{"Cluster":"C1","group":"FEMALE","part":"upper","share":0.41},{"Cluster":"C1","group":"MALE","part":"lower","share":0.59},{"Cluster":"C2","group":"FEMALE","part":"upper","share":0.48},{"Cluster":"C2","group":"MALE","part":"lower","share":0.52},{"Cluster":"C3","group":"FEMALE","part":"upper","share":0.22},{"Cluster":"C3","group":"MALE","part":"lower","share":0.78},{"Cluster":"C4","group":"FEMALE","part":"upper","share":0.295},{"Cluster":"C4","group":"MALE","part":"lower","share":0.705}]},
"mark":"bar",
"encoding":{"x":{"field":"Cluster","type":"nominal","scale":{"paddingInner":0.1,"paddingOuter":0.15},"axis":{"labelAngle":0,"grid":true,"gridColor":"#ebebeb","gridWidth":0.5,"title":"Cluster"}},
"y":{"field":"share","type":"quantitative","stack":"zero","scale":{"domain":[-0.05,1.05],"nice":false},"axis":{"values":[0,0.25,0.5,0.75,1],"format":".2f","grid":true,"gridColor":"#ebebeb","gridWidth":0.5,"title":null}},
"order":{"field":"part","type":"nominal","sort":"ascending"},
"color":{"field":"group","type":"nominal","scale":{"domain":["FEMALE","MALE"],"range":["#F8766D","#00BFC4"]},"legend":{"title":"gender","orient":"none","legendX":95,"legendY":72,"titleFontSize":6,"labelFontSize":4.5,"labelColor":"#222","symbolType":"square","symbolSize":49,"symbolStrokeWidth":0,"rowPadding":1,"titlePadding":2,"labelOffset":3}}}},
{"width":57,"height":1,"title":{"text":"G","anchor":"start","dx":31,"offset":1,"fontSize":18,"baseline":"alphabetic"},"data":{"values":[{"z":0.5}]},"mark":{"type":"rect","opacity":0},"encoding":{"x":{"field":"z","type":"quantitative","axis":null,"scale":{"domain":[0,1]}},"y":{"field":"z","type":"quantitative","axis":null,"scale":{"domain":[0,1]}}}},
{"width":94,"height":167,"view":{"stroke":"#b3b3b3"},"title":{"text":"grade (p=0.031)","fontSize":6,"offset":3},
"data":{"values":[{"Cluster":"C1","group":"G1~2","part":"upper","share":0.54},{"Cluster":"C1","group":"G3~4","part":"lower","share":0.46},{"Cluster":"C2","group":"G1~2","part":"upper","share":0.45},{"Cluster":"C2","group":"G3~4","part":"lower","share":0.55},{"Cluster":"C3","group":"G1~2","part":"upper","share":0.335},{"Cluster":"C3","group":"G3~4","part":"lower","share":0.665},{"Cluster":"C4","group":"G1~2","part":"upper","share":0.315},{"Cluster":"C4","group":"G3~4","part":"lower","share":0.685}]},
"mark":"bar",
"encoding":{"x":{"field":"Cluster","type":"nominal","scale":{"paddingInner":0.1,"paddingOuter":0.15},"axis":{"labelAngle":0,"grid":true,"gridColor":"#ebebeb","gridWidth":0.5,"title":"Cluster"}},
"y":{"field":"share","type":"quantitative","stack":"zero","scale":{"domain":[-0.05,1.05],"nice":false},"axis":{"values":[0,0.25,0.5,0.75,1],"format":".2f","grid":true,"gridColor":"#ebebeb","gridWidth":0.5,"title":null}},
"order":{"field":"part","type":"nominal","sort":"ascending"},
"color":{"field":"group","type":"nominal","scale":{"domain":["G1~2","G3~4"],"range":["#F8766D","#00BFC4"]},"legend":{"title":"grade","orient":"none","legendX":102,"legendY":72,"titleFontSize":6,"labelFontSize":4.5,"labelColor":"#222","symbolType":"square","symbolSize":49,"symbolStrokeWidth":0,"rowPadding":1,"titlePadding":2,"labelOffset":3}}}}
],"bounds":"flush","spacing":0},
{"resolve":{"scale":{"color":"independent","fill":"independent"},"legend":{"color":"independent","fill":"independent"}},"hconcat":[
{"width":35,"height":170,"title":{"text":"H","anchor":"start","dx":6,"offset":2,"fontSize":18,"baseline":"alphabetic"},"data":{"values":[{"z":0.5}]},"mark":{"type":"rect","opacity":0},"encoding":{"x":{"field":"z","type":"quantitative","axis":null,"scale":{"domain":[0,1]}},"y":{"field":"z","type":"quantitative","axis":null,"scale":{"domain":[0,1]}}}},
{"width":83,"height":167,"view":{"stroke":"#b3b3b3"},"title":{"text":"stage (p=0.015)","fontSize":6,"offset":3},
"data":{"values":[{"Cluster":"C1","group":"Stage I~II","part":"upper","share":0.58},{"Cluster":"C1","group":"Stage III~IV","part":"lower","share":0.42},{"Cluster":"C2","group":"Stage I~II","part":"upper","share":0.655},{"Cluster":"C2","group":"Stage III~IV","part":"lower","share":0.345},{"Cluster":"C3","group":"Stage I~II","part":"upper","share":0.445},{"Cluster":"C3","group":"Stage III~IV","part":"lower","share":0.555},{"Cluster":"C4","group":"Stage I~II","part":"upper","share":0.39},{"Cluster":"C4","group":"Stage III~IV","part":"lower","share":0.61}]},
"mark":"bar",
"encoding":{"x":{"field":"Cluster","type":"nominal","scale":{"paddingInner":0.1,"paddingOuter":0.15},"axis":{"labelAngle":0,"grid":true,"gridColor":"#ebebeb","gridWidth":0.5,"title":"Cluster"}},
"y":{"field":"share","type":"quantitative","stack":"zero","scale":{"domain":[-0.05,1.05],"nice":false},"axis":{"values":[0,0.25,0.5,0.75,1],"format":".2f","grid":true,"gridColor":"#ebebeb","gridWidth":0.5,"title":null}},
"order":{"field":"part","type":"nominal","sort":"ascending"},
"color":{"field":"group","type":"nominal","scale":{"domain":["Stage I~II","Stage III~IV"],"range":["#F8766D","#00BFC4"]},"legend":{"title":"stage","orient":"none","legendX":90,"legendY":72,"titleFontSize":6,"labelFontSize":4.5,"labelColor":"#222","symbolType":"square","symbolSize":49,"symbolStrokeWidth":0,"rowPadding":1,"titlePadding":2,"labelOffset":3}}}},
{"width":86,"height":1,"title":{"text":"I","anchor":"start","dx":63,"offset":1,"fontSize":18,"baseline":"alphabetic"},"data":{"values":[{"z":0.5}]},"mark":{"type":"rect","opacity":0},"encoding":{"x":{"field":"z","type":"quantitative","axis":null,"scale":{"domain":[0,1]}},"y":{"field":"z","type":"quantitative","axis":null,"scale":{"domain":[0,1]}}}},
{"width":95,"height":169,"view":{"stroke":"#b3b3b3"},"title":{"text":"T (p=0.003)","fontSize":6,"offset":3},
"data":{"values":[{"Cluster":"C1","group":"T1~2","part":"upper","share":0.635},{"Cluster":"C1","group":"T3~4","part":"lower","share":0.365},{"Cluster":"C2","group":"T1~2","part":"upper","share":0.71},{"Cluster":"C2","group":"T3~4","part":"lower","share":0.29},{"Cluster":"C3","group":"T1~2","part":"upper","share":0.445},{"Cluster":"C3","group":"T3~4","part":"lower","share":0.555},{"Cluster":"C4","group":"T1~2","part":"upper","share":0.415},{"Cluster":"C4","group":"T3~4","part":"lower","share":0.585}]},
"mark":"bar",
"encoding":{"x":{"field":"Cluster","type":"nominal","scale":{"paddingInner":0.1,"paddingOuter":0.15},"axis":{"labelAngle":0,"grid":true,"gridColor":"#ebebeb","gridWidth":0.5,"title":"Cluster"}},
"y":{"field":"share","type":"quantitative","stack":"zero","scale":{"domain":[-0.05,1.05],"nice":false},"axis":{"values":[0,0.25,0.5,0.75,1],"format":".2f","grid":true,"gridColor":"#ebebeb","gridWidth":0.5,"title":null}},
"order":{"field":"part","type":"nominal","sort":"ascending"},
"color":{"field":"group","type":"nominal","scale":{"domain":["T1~2","T3~4"],"range":["#F8766D","#00BFC4"]},"legend":{"title":"T","orient":"none","legendX":103,"legendY":72,"titleFontSize":6,"labelFontSize":4.5,"labelColor":"#222","symbolType":"square","symbolSize":49,"symbolStrokeWidth":0,"rowPadding":1,"titlePadding":2,"labelOffset":3}}}},
{"width":81,"height":1,"title":{"text":"J","anchor":"start","dx":57,"offset":-2,"fontSize":18,"baseline":"alphabetic"},"data":{"values":[{"z":0.5}]},"mark":{"type":"rect","opacity":0},"encoding":{"x":{"field":"z","type":"quantitative","axis":null,"scale":{"domain":[0,1]}},"y":{"field":"z","type":"quantitative","axis":null,"scale":{"domain":[0,1]}}}},
{"width":99,"height":169,"view":{"stroke":"#b3b3b3"},"title":{"text":"N (p=0.013)","fontSize":6,"offset":3},
"data":{"values":[{"Cluster":"C1","group":"N0","part":"upper","share":0.96},{"Cluster":"C1","group":"N1","part":"lower","share":0.04},{"Cluster":"C2","group":"N0","part":"upper","share":0.985},{"Cluster":"C2","group":"N1","part":"lower","share":0.015},{"Cluster":"C3","group":"N0","part":"upper","share":1},{"Cluster":"C3","group":"N1","part":"lower","share":0},{"Cluster":"C4","group":"N0","part":"upper","share":0.865},{"Cluster":"C4","group":"N1","part":"lower","share":0.135}]},
"mark":"bar",
"encoding":{"x":{"field":"Cluster","type":"nominal","scale":{"paddingInner":0.1,"paddingOuter":0.15},"axis":{"labelAngle":0,"grid":true,"gridColor":"#ebebeb","gridWidth":0.5,"title":"Cluster"}},
"y":{"field":"share","type":"quantitative","stack":"zero","scale":{"domain":[-0.05,1.05],"nice":false},"axis":{"values":[0,0.25,0.5,0.75,1],"format":".2f","grid":true,"gridColor":"#ebebeb","gridWidth":0.5,"title":null}},
"order":{"field":"part","type":"nominal","sort":"ascending"},
"color":{"field":"group","type":"nominal","scale":{"domain":["N0","N1"],"range":["#F8766D","#00BFC4"]},"legend":{"title":"N","orient":"none","legendX":107,"legendY":72,"titleFontSize":6,"labelFontSize":4.5,"labelColor":"#222","symbolType":"square","symbolSize":49,"symbolStrokeWidth":0,"rowPadding":1,"titlePadding":2,"labelOffset":3}}}},
{"width":77,"height":1,"title":{"text":"K","anchor":"start","dx":49,"offset":-6,"fontSize":18,"baseline":"alphabetic"},"data":{"values":[{"z":0.5}]},"mark":{"type":"rect","opacity":0},"encoding":{"x":{"field":"z","type":"quantitative","axis":null,"scale":{"domain":[0,1]}},"y":{"field":"z","type":"quantitative","axis":null,"scale":{"domain":[0,1]}}}},
{"width":98,"height":169,"view":{"stroke":"#b3b3b3"},"title":{"text":"M (p=0.205)","fontSize":6,"offset":3},
"data":{"values":[{"Cluster":"C1","group":"M0","part":"upper","share":0.865},{"Cluster":"C1","group":"M1","part":"lower","share":0.135},{"Cluster":"C2","group":"M0","part":"upper","share":0.865},{"Cluster":"C2","group":"M1","part":"lower","share":0.135},{"Cluster":"C3","group":"M0","part":"upper","share":0.665},{"Cluster":"C3","group":"M1","part":"lower","share":0.335},{"Cluster":"C4","group":"M0","part":"upper","share":0.78},{"Cluster":"C4","group":"M1","part":"lower","share":0.22}]},
"mark":"bar",
"encoding":{"x":{"field":"Cluster","type":"nominal","scale":{"paddingInner":0.1,"paddingOuter":0.15},"axis":{"labelAngle":0,"grid":true,"gridColor":"#ebebeb","gridWidth":0.5,"title":"Cluster"}},
"y":{"field":"share","type":"quantitative","stack":"zero","scale":{"domain":[-0.05,1.05],"nice":false},"axis":{"values":[0,0.25,0.5,0.75,1],"format":".2f","grid":true,"gridColor":"#ebebeb","gridWidth":0.5,"title":null}},
"order":{"field":"part","type":"nominal","sort":"ascending"},
"color":{"field":"group","type":"nominal","scale":{"domain":["M0","M1"],"range":["#F8766D","#00BFC4"]},"legend":{"title":"M","orient":"none","legendX":106,"legendY":72,"titleFontSize":6,"labelFontSize":4.5,"labelColor":"#222","symbolType":"square","symbolSize":49,"symbolStrokeWidth":0,"rowPadding":1,"titlePadding":2,"labelOffset":3}}}}
],"bounds":"flush","spacing":0}
]}
